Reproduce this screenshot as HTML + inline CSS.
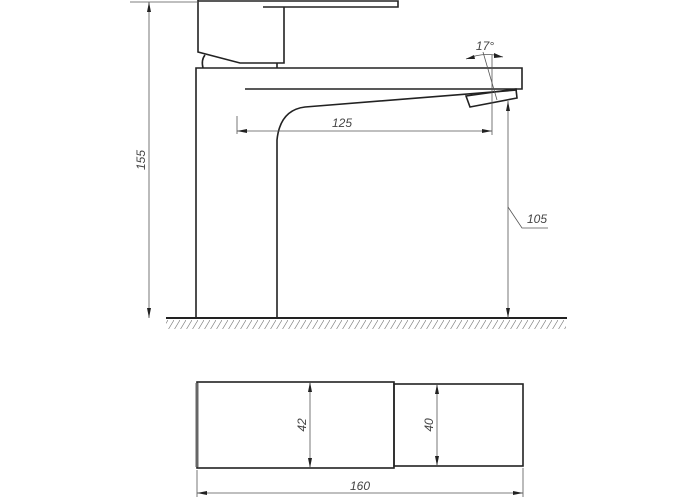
<!DOCTYPE html>
<html><head><style>html,body{margin:0;padding:0;background:#fff;width:700px;height:500px;overflow:hidden}</style></head>
<body>
<svg width="700" height="500" viewBox="0 0 700 500" xmlns="http://www.w3.org/2000/svg">
<defs>
<pattern id="h" width="6" height="10" patternUnits="userSpaceOnUse"><line x1="0" y1="10" x2="6" y2="0" stroke="#777" stroke-width="0.6"/></pattern>
</defs>
<g fill="none" stroke="#222" stroke-width="1.6">
<!-- handle -->
<polyline points="198,0 198,52 240,63 284,63 284,7"/>
<polyline points="263,7 398,7 398,1 198,1"/>
<path d="M205,55 Q201,60 203,68"/>
<line x1="277" y1="63" x2="277" y2="68"/>
<!-- body -->
<polyline points="196,318 196,68 522,68 522,89 245,89"/>
<path d="M277,318 L277,140 Q280,110 305,107 L517,90"/>
<polygon points="466,96 470,107 517,98 516,89"/>
<!-- ground -->
<line x1="166" y1="318" x2="567" y2="318" stroke-width="2"/>
<!-- top view -->
<rect x="197" y="382" width="197" height="86"/>
<rect x="394" y="384" width="129" height="82"/>
<line x1="197" y1="383" x2="197" y2="467" stroke="#666" stroke-width="3"/>
</g>
<rect x="166" y="320" width="400" height="9" fill="url(#h)"/>
<g stroke="#555" stroke-width="0.8" fill="none">
<line x1="149" y1="2" x2="149" y2="318"/>
<line x1="130" y1="2" x2="199" y2="2"/>
<line x1="237" y1="116" x2="237" y2="134"/>
<line x1="492" y1="55" x2="492" y2="135"/>
<line x1="237" y1="131" x2="492" y2="131"/>
<line x1="508" y1="101" x2="508" y2="318"/>
<polyline points="508,207 522,228 548,228"/>
<line x1="483" y1="52" x2="497" y2="100"/>
<path d="M466,59 Q480,53 495,55 L503,57"/>
<line x1="197" y1="470" x2="197" y2="497"/>
<line x1="523" y1="468" x2="523" y2="497"/>
<line x1="197" y1="493" x2="523" y2="493"/>
<line x1="310" y1="382" x2="310" y2="468"/>
<line x1="437" y1="384" x2="437" y2="466"/>
</g>
<g fill="#222">
<polygon points="149,2 147,12 151,12"/><polygon points="149,318 147,308 151,308"/>
<polygon points="237,131 247,129 247,133"/><polygon points="492,131 482,129 482,133"/>
<polygon points="508,101 506,111 510,111"/><polygon points="508,318 506,308 510,308"/>
<polygon points="197,493 207,491 207,495"/><polygon points="523,493 513,491 513,495"/>
<polygon points="310,382 308,392 312,392"/><polygon points="310,468 308,458 312,458"/>
<polygon points="437,384 435,394 439,394"/><polygon points="437,466 435,456 439,456"/>
<polygon points="466,59 474,55 475,59"/><polygon points="503,57 494,53 494,58"/>
</g>
<g font-family="Liberation Sans, sans-serif" font-size="12" font-style="italic" fill="#444">
<text x="342" y="127" text-anchor="middle">125</text>
<text x="537" y="223" text-anchor="middle">105</text>
<text x="485" y="50" text-anchor="middle">17°</text>
<text x="360" y="490" text-anchor="middle">160</text>
<text transform="translate(145,160) rotate(-90)" text-anchor="middle">155</text>
<text transform="translate(306,425) rotate(-90)" text-anchor="middle">42</text>
<text transform="translate(433,425) rotate(-90)" text-anchor="middle">40</text>
</g>
</svg>
</body></html>
